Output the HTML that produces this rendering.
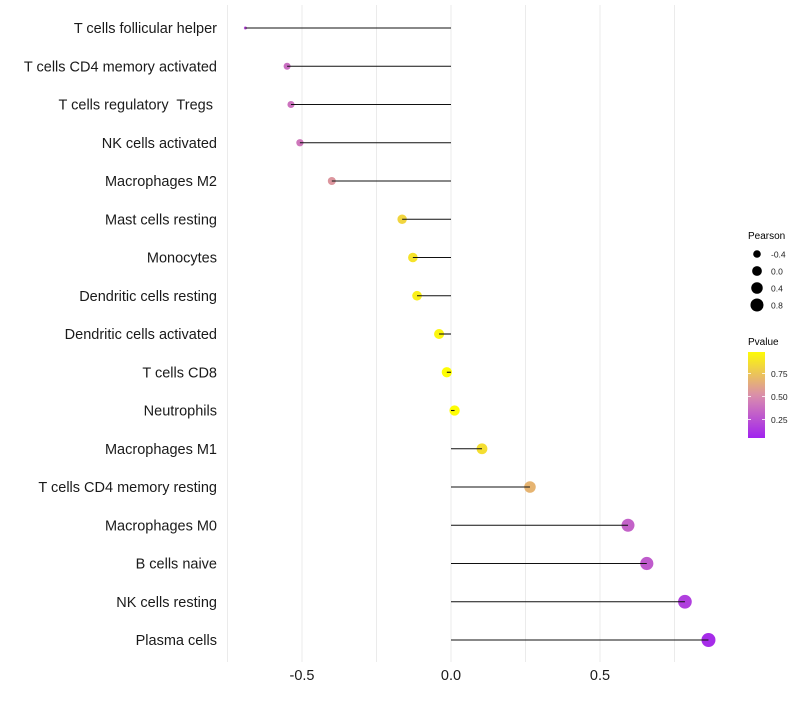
<!DOCTYPE html>
<html><head><meta charset="utf-8"><style>
body{margin:0;background:#fff;font-family:"Liberation Sans",sans-serif}
svg text{font-family:"Liberation Sans",sans-serif;white-space:pre}
</style></head><body>
<svg id="chart" width="800" height="700" xmlns="http://www.w3.org/2000/svg">
<g id="grid"></g>
<g id="marks"></g>
<g id="ylabels"></g>
<g id="xlabels"></g>
<g id="legend"></g>
</svg>
<script>
const categories=["T cells follicular helper","T cells CD4 memory activated","T cells regulatory  Tregs ","NK cells activated","Macrophages M2","Mast cells resting","Monocytes","Dendritic cells resting","Dendritic cells activated","T cells CD8","Neutrophils","Macrophages M1","T cells CD4 memory resting","Macrophages M0","B cells naive","NK cells resting","Plasma cells"];
const pearson=[-0.69,-0.55,-0.537,-0.507,-0.40,-0.164,-0.128,-0.114,-0.04,-0.014,0.012,0.104,0.265,0.594,0.657,0.785,0.864];
const pvalue=[0.22,0.38,0.4,0.42,0.55,0.82,0.88,0.93,0.96,0.99,0.99,0.86,0.68,0.33,0.3,0.18,0.1];
const xTicks=[-0.5,0,0.5];
const xTickLabels=["-0.5","0.0","0.5"];
const gridVals=[-0.75,-0.5,-0.25,0,0.25,0.5,0.75];
const sizeLegend=[-0.4,0.0,0.4,0.8];
const colorLegend=[0.25,0.5,0.75];

const NS="http://www.w3.org/2000/svg";
function X(v){return 451+v*298;}
function Y(i){return 28+i*38.25;}
function R(v){
  if(v>=-0.55)return Math.sqrt(26*(v+1.015));
  const r1=Math.sqrt(26*(0.465));
  return Math.max(1.5,1.5+(v+0.69)/0.14*(r1-1.5));
}
function lerp(a,b,t){return a+(b-a)*t;}
function col(p){
  const stops=[[0.05,[160,32,240]],[0.5,[216,138,176]],[1.0,[255,255,0]]];
  if(p<=stops[0][0])return "rgb("+stops[0][1]+")";
  for(let k=0;k<stops.length-1;k++){
    const a=stops[k],b=stops[k+1];
    if(p<=b[0]){const t=(p-a[0])/(b[0]-a[0]);
      return "rgb("+a[1].map((c,j)=>Math.round(lerp(c,b[1][j],t))).join(",")+")";}
  }
  return "rgb(255,255,0)";
}
function mk(tag,attrs,parent){const e=document.createElementNS(NS,tag);for(const k in attrs)e.setAttribute(k,attrs[k]);parent.appendChild(e);return e;}
const grid=document.getElementById("grid"),marks=document.getElementById("marks"),yl=document.getElementById("ylabels"),xl=document.getElementById("xlabels"),lg=document.getElementById("legend");
gridVals.forEach(v=>{
  const l=mk("line",{x1:X(v),x2:X(v),y1:5,y2:662,stroke:"#ebebeb","stroke-width":1},grid);
  
  
});
categories.forEach((c,i)=>{
  const y=Y(i);
  const pt=mk("circle",{cx:X(pearson[i]),cy:y,r:R(pearson[i]),fill:col(pvalue[i])},marks);
  
  
  const ln=mk("line",{x1:X(0),x2:X(pearson[i]),y1:y,y2:y,stroke:"#111","stroke-width":1.1},marks);
  
  
  const t=mk("text",{x:217,y:y+5,"text-anchor":"end","font-size":14.5,fill:"#1a1a1a"},yl);
  t.textContent=c;
  
  
});
xTicks.forEach((v,i)=>{
  const t=mk("text",{x:X(v),y:680,"text-anchor":"middle","font-size":14.5,fill:"#1a1a1a"},xl);
  t.textContent=xTickLabels[i];
  
  
});
const t1=mk("text",{x:748,y:239,"font-size":10,fill:"#000"},lg);t1.textContent="Pearson";


sizeLegend.forEach((v,i)=>{
  const y=254+i*17;
  const c=mk("circle",{cx:757,cy:y,r:R(v)*0.95,fill:"#000"},lg);
  
  
  const t=mk("text",{x:771,y:y+3.5,"font-size":8.5,fill:"#222"},lg);
  t.textContent=v.toFixed(1);
  
  
});
const t2=mk("text",{x:748,y:345,"font-size":10,fill:"#000"},lg);t2.textContent="Pvalue";


const defs=mk("defs",{},lg);
const gr=mk("linearGradient",{id:"pg",x1:0,y1:1,x2:0,y2:0},defs);
for(let k=0;k<=10;k++){const p=0.06+k*0.092;mk("stop",{offset:k/10,"stop-color":col(p)},gr);}
const bar=mk("rect",{x:748,y:352,width:17,height:86,fill:"url(#pg)"},lg);


function PY(p){return 437-(p-0.06)/0.25*23;}
colorLegend.forEach(v=>{
  const y=PY(v);
  mk("line",{x1:748,x2:751,y1:y,y2:y,stroke:"#fff","stroke-width":0.8},lg);
  mk("line",{x1:762,x2:765,y1:y,y2:y,stroke:"#fff","stroke-width":0.8},lg);
  const t=mk("text",{x:771,y:y+3.5,"font-size":8.5,fill:"#222"},lg);
  t.textContent=v.toFixed(2);
  
  
});
</script>
</body></html>
